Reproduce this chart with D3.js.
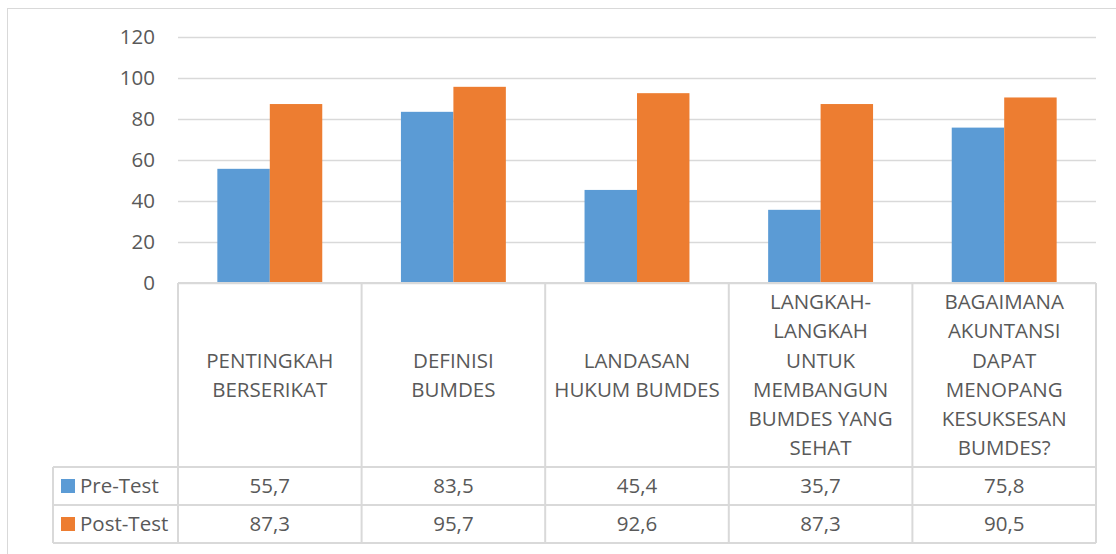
<!DOCTYPE html>
<html>
<head>
<meta charset="utf-8">
<script src="https://cdn.jsdelivr.net/npm/d3@7"></script>
<style>
  body { margin: 0; background: #fff; }
  text { font-family: "Open Sans", sans-serif; fill: #595959; }
</style>
</head>
<body>
<script>
var categories = [
  "PENTINGKAH\nBERSERIKAT",
  "DEFINISI\nBUMDES",
  "LANDASAN\nHUKUM BUMDES",
  "LANGKAH-\nLANGKAH\nUNTUK\nMEMBANGUN\nBUMDES YANG\nSEHAT",
  "BAGAIMANA\nAKUNTANSI\nDAPAT\nMENOPANG\nKESUKSESAN\nBUMDES?"
];
var seriesNames = ["Pre-Test", "Post-Test"];
var preTest = [55.7, 83.5, 45.4, 35.7, 75.8];
var postTest = [87.3, 95.7, 92.6, 87.3, 90.5];
var yTicks = [0, 20, 40, 60, 80, 100, 120];
var colors = ["#5B9BD5", "#ED7D31"];

var seriesValues = [preTest, postTest];
var fmt = function(v) { return d3.format(".1f")(v).replace(".", ","); };

var width = 1116, height = 554;
var plotLeft = 178, plotRight = 1096, plotTop = 37, plotBottom = 283;
var labelBottom = 467, rowH = 38, tableLeft = 53;
var gridColor = "#d9d9d9";
var fontSize = 20.5;

var svg = d3.select("body").append("svg")
  .attr("width", width)
  .attr("height", height);

// outer chart border
svg.append("rect")
  .attr("x", 7.5).attr("y", 8.5)
  .attr("width", width + 10).attr("height", height + 10)
  .attr("fill", "none")
  .attr("stroke", gridColor)
  .attr("stroke-width", 1);

// scales
//##############################################

var x = d3.scaleBand()
  .domain(d3.range(categories.length))
  .range([plotLeft, plotRight]);

var xInner = d3.scaleBand()
  .domain(d3.range(seriesNames.length))
  .range([0, x.bandwidth()])
  .paddingOuter(0.75);

var y = d3.scaleLinear()
  .domain([0, 120])
  .range([plotBottom, plotTop]);

// gridlines and y axis
//##############################################

var yAxis = svg.append("g")
  .attr("transform", "translate(" + plotLeft + ",0)")
  .call(d3.axisLeft(y).tickValues(yTicks).tickSize(-(plotRight - plotLeft)).tickPadding(23));

yAxis.select(".domain").remove();
yAxis.selectAll(".tick line")
  .attr("stroke", gridColor)
  .attr("stroke-width", 1.5);
yAxis.selectAll(".tick text")
  .attr("font-size", fontSize)
  .attr("fill", "#595959")
  .style("font-family", "'Open Sans', sans-serif");

// bars
//##############################################

var groups = svg.selectAll(".series")
  .data(seriesValues)
  .enter()
  .append("g")
  .attr("fill", function(d, i) { return colors[i]; });

groups.each(function(vals, si) {
  d3.select(this).selectAll("rect")
    .data(vals)
    .enter()
    .append("rect")
    .attr("x", function(d, i) { return x(i) + xInner(si); })
    .attr("width", xInner.bandwidth())
    .attr("y", function(d) { return y(d); })
    .attr("height", function(d) { return y(0) - y(d); });
});

// data table
//##############################################

var table = svg.append("g")
  .attr("stroke", gridColor)
  .attr("stroke-width", 2)
  .attr("fill", "none");

var tableBottom = labelBottom + rowH * seriesNames.length;

// horizontal lines
table.append("line")
  .attr("x1", plotLeft).attr("x2", plotRight)
  .attr("y1", plotBottom).attr("y2", plotBottom);
seriesNames.concat([""]).forEach(function(s, i) {
  table.append("line")
    .attr("x1", tableLeft).attr("x2", plotRight)
    .attr("y1", labelBottom + i * rowH).attr("y2", labelBottom + i * rowH);
});

// vertical lines
d3.range(categories.length + 1).forEach(function(i) {
  var xx = i < categories.length ? x(i) : plotRight;
  table.append("line")
    .attr("x1", xx).attr("x2", xx)
    .attr("y1", plotBottom).attr("y2", tableBottom);
});
table.append("line")
  .attr("x1", tableLeft).attr("x2", tableLeft)
  .attr("y1", labelBottom).attr("y2", tableBottom);

// category labels
var lineH = 29.3;
var catLabels = svg.selectAll(".cat")
  .data(categories)
  .enter()
  .append("text")
  .attr("class", "cat")
  .attr("text-anchor", "middle")
  .attr("font-size", fontSize);

catLabels.each(function(d, i) {
  var lines = d.split("\n");
  var cx = x(i) + x.bandwidth() / 2;
  var cy = (plotBottom + labelBottom) / 2;
  d3.select(this).selectAll("tspan")
    .data(lines)
    .enter()
    .append("tspan")
    .attr("x", cx)
    .attr("y", function(l, j) { return cy + (j - (lines.length - 1) / 2) * lineH; })
    .attr("dy", "0.35em")
    .text(function(l) { return l; });
});

// series rows
seriesNames.forEach(function(name, si) {
  var rowMid = labelBottom + si * rowH + rowH / 2;
  svg.append("rect")
    .attr("x", 61).attr("y", rowMid - 7)
    .attr("width", 14).attr("height", 14)
    .attr("fill", colors[si]);
  svg.append("text")
    .attr("x", 80).attr("y", rowMid)
    .attr("dy", "0.35em")
    .attr("font-size", fontSize)
    .text(name);
  svg.selectAll(".val" + si)
    .data(seriesValues[si])
    .enter()
    .append("text")
    .attr("x", function(d, i) { return x(i) + x.bandwidth() / 2; })
    .attr("y", rowMid)
    .attr("dy", "0.35em")
    .attr("text-anchor", "middle")
    .attr("font-size", fontSize)
    .text(function(d) { return fmt(d); });
});
</script>
</body>
</html>
